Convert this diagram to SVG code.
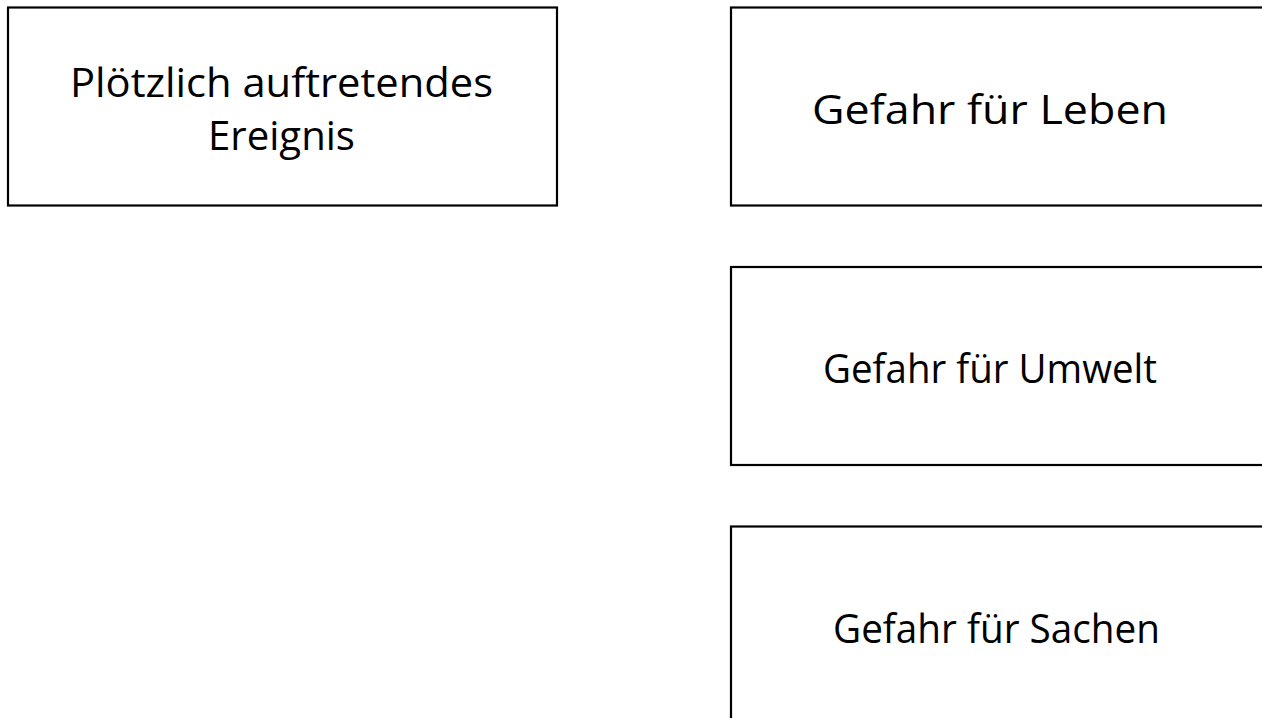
<svg xmlns="http://www.w3.org/2000/svg" width="1262" height="718" viewBox="0 0 1262 718">
<style>
.box{fill:#fff;stroke:#000;stroke-width:2.2}
.t{font-family:"Open Sans","Liberation Sans",sans-serif;font-size:41px;fill:#000}
</style>
<rect width="1262" height="718" fill="#fff"/>
<g id="n1"><rect class="box" x="8" y="7.5" width="549" height="198"/>
<text class="t" x="70" y="97" textLength="423" lengthAdjust="spacingAndGlyphs">Plötzlich auftretendes</text>
<text class="t" x="208" y="150" textLength="147" lengthAdjust="spacingAndGlyphs">Ereignis</text></g>
<g id="n2"><rect class="box" x="731" y="7.5" width="560" height="198"/>
<text class="t" x="812" y="124" textLength="356" lengthAdjust="spacingAndGlyphs">Gefahr für Leben</text></g>
<g id="n3"><rect class="box" x="731" y="267" width="560" height="198"/>
<text class="t" x="823" y="383" textLength="334" lengthAdjust="spacingAndGlyphs">Gefahr für Umwelt</text></g>
<g id="n4"><rect class="box" x="731" y="526.5" width="560" height="198"/>
<text class="t" x="833" y="643" textLength="327" lengthAdjust="spacingAndGlyphs">Gefahr für Sachen</text></g>
<g id="connectors"></g>
</svg>
